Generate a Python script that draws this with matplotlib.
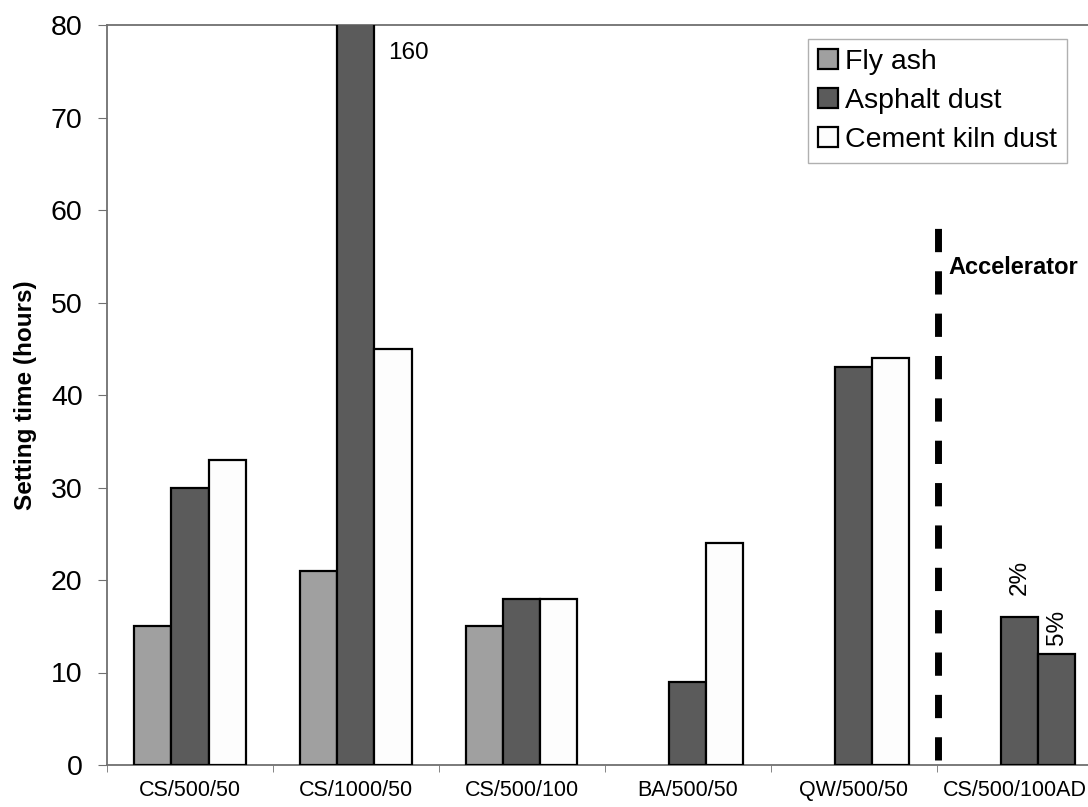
import matplotlib
matplotlib.use("Agg")
import matplotlib.pyplot as plt
import matplotlib.transforms as mtransforms
import numpy as np

plt.rcParams['font.family'] = ['Liberation Sans', 'DejaVu Sans']

categories = ["CS/500/50", "CS/1000/50", "CS/500/100", "BA/500/50", "QW/500/50", "CS/500/100AD"]
fly_ash = [15, 21, 15, None, None, None]
asphalt_dust = [30, 160, 18, 9, 43, 16]
cement_kiln_dust = [33, 45, 18, 24, 44, None]
accel_5pct = [None, None, None, None, None, 12]   # 5% accelerator bar (asphalt dust)
series_names = ["Fly ash", "Asphalt dust", "Cement kiln dust"]
yticks = [0, 10, 20, 30, 40, 50, 60, 70, 80]

c_fly = "#a0a0a0"
c_asp = "#5b5b5b"
c_ckd = "#fdfdfd"
spine_c = "#707070"

fig = plt.figure(figsize=(10.88, 8.07), dpi=100)
ax = fig.add_axes([107/1088, 1 - 765/807, 1 - 107/1088, (765 - 25)/807])

x = np.arange(len(categories))
w = 0.223

def draw(vals, offset, color, label):
    xs = [xi + offset for xi, v in zip(x, vals) if v is not None]
    vs = [v for v in vals if v is not None]
    return ax.bar(xs, vs, width=w, color=color, edgecolor="black", linewidth=1.6,
                  label=label, zorder=3)

draw(fly_ash, -w, c_fly, series_names[0])
draw(asphalt_dust, 0, c_asp, series_names[1])
draw(cement_kiln_dust, w, c_ckd, series_names[2])
draw(accel_5pct, w, c_asp, None)

ax.set_ylim(0, 80)
ax.set_xlim(-0.5, 5.41)
ax.set_yticks(yticks)
ax.set_yticklabels([str(t) for t in yticks], fontsize=20.5)
ax.set_xticks(x)
ax.set_xticklabels(categories, fontsize=15.5)
ax.tick_params(axis='x', which='major', length=0, pad=11)
ax.set_xticks(np.arange(-0.5, 5.5, 1), minor=True)
ax.tick_params(axis='x', which='minor', length=5, color=spine_c, direction='out')
ax.tick_params(axis='y', length=6.5, color=spine_c, direction='out', pad=11)

# keep the last category label inside the figure edge
last = ax.get_xticklabels()[-1]
last.set_transform(last.get_transform() +
                   mtransforms.ScaledTranslation(-0.05, 0, fig.dpi_scale_trans))

for s in ['left', 'bottom', 'top']:
    ax.spines[s].set_color(spine_c)
    ax.spines[s].set_linewidth(1.3)
ax.spines['right'].set_visible(False)

ax.set_ylabel("Setting time (hours)", fontsize=17.5, fontweight='bold', labelpad=10)

# labels
ax.text(1 + w/2 + 0.08, 77, "160", fontsize=17.5, ha='left', va='center')
ax.text(5, 16 + 2.4, "2%", fontsize=17.5, rotation=90, ha='center', va='bottom')
ax.text(5 + w, 12 + 1.0, "5%", fontsize=17.5, rotation=90, ha='center', va='bottom')
ax.text(4.568, 53.8, "Accelerator", fontsize=17, fontweight='bold', ha='left', va='center')

# dashed separator
ax.plot([4.506, 4.506], [0.5, 58.7], color='black', linewidth=5,
        dashes=(3.35, 2.75), solid_capstyle='butt', dash_capstyle='butt',
        clip_on=False, zorder=4)

leg = ax.legend(loc='upper right', fontsize=20.5, frameon=True, fancybox=False,
                framealpha=1, edgecolor="#b0b0b0", handlelength=0.7,
                handleheight=0.7, handletextpad=0.25, labelspacing=0.45,
                borderpad=0.35, borderaxespad=0.0)
leg.get_frame().set_linewidth(1.0)
leg.set_bbox_to_anchor((1067/1088, 1 - 39/807), transform=fig.transFigure)

fig.savefig("out.png", dpi=100)
